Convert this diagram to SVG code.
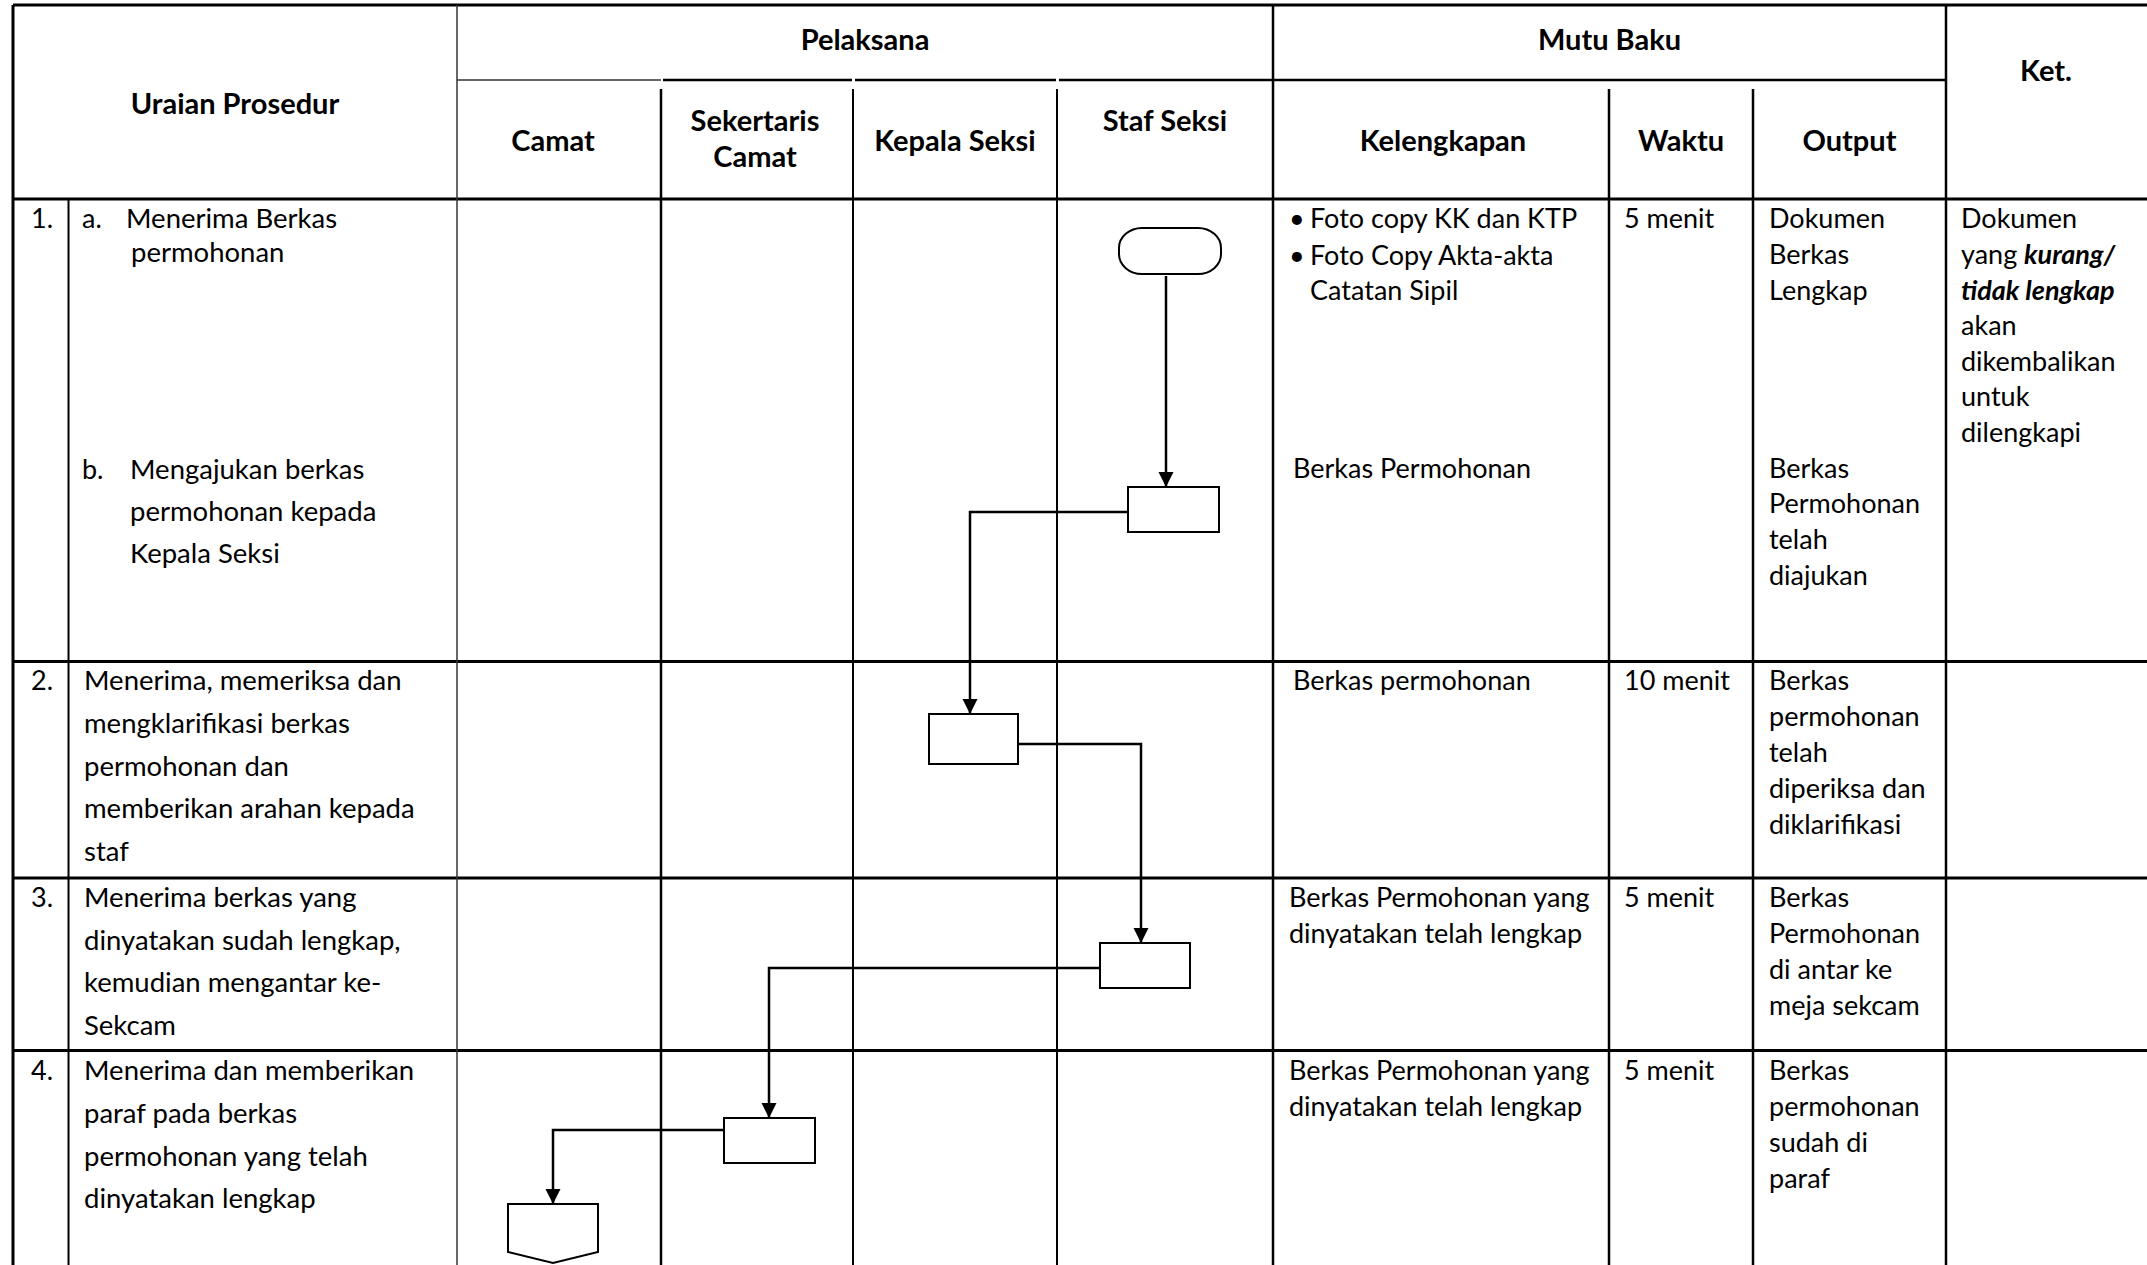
<svg xmlns="http://www.w3.org/2000/svg" width="2147" height="1265" viewBox="0 0 2147 1265">
<style>
text{font-family:Lato,"Open Sans","Liberation Sans",sans-serif;fill:#000}
.h{font-size:29px;font-weight:bold;text-anchor:middle}
.t{font-size:27px}
.u{font-size:27.5px}
.bi{font-weight:bold;font-style:italic}
.thick{stroke:#000;stroke-width:3;fill:none}
.med{stroke:#000;stroke-width:2.5;fill:none}
.thin{stroke:#000;stroke-width:2;fill:none}
.hair{stroke:#333;stroke-width:1.5;fill:none}
.shape{fill:#fff;stroke:#000;stroke-width:2}
.conn{stroke:#000;stroke-width:2.5;fill:none}
</style>
<defs>
<marker id="arr" markerUnits="userSpaceOnUse" markerWidth="16" markerHeight="16" refX="15" refY="7.5" orient="auto">
<path d="M0,0 L15,7.5 L0,15 z" fill="#000"/>
</marker>
</defs>
<rect x="0" y="0" width="2147" height="1265" fill="#fff"/>
<g id="grid">
<line class="thick" x1="13" y1="5" x2="2147" y2="5"/>
<line class="thick" x1="13" y1="5" x2="13" y2="1265"/>
<line class="hair" x1="457" y1="80" x2="661" y2="80"/>
<line class="med" x1="663" y1="80" x2="852" y2="80"/>
<line class="med" x1="855" y1="80" x2="1056" y2="80"/>
<line class="med" x1="1059" y1="80" x2="1946" y2="80"/>
<line class="thick" x1="13" y1="199" x2="2147" y2="199"/>
<line class="thick" x1="13" y1="661.5" x2="2147" y2="661.5"/>
<line class="thick" x1="13" y1="878" x2="2147" y2="878"/>
<line class="thick" x1="13" y1="1050.5" x2="2147" y2="1050.5"/>
<line class="thin" x1="68.5" y1="199" x2="68.5" y2="1265"/>
<line class="hair" x1="457" y1="5" x2="457" y2="1265"/>
<line class="med" x1="661" y1="89" x2="661" y2="1265"/>
<line class="thin" x1="853" y1="89" x2="853" y2="1265"/>
<line class="thin" x1="1057" y1="89" x2="1057" y2="1265"/>
<line class="med" x1="1273" y1="5" x2="1273" y2="1265"/>
<line class="med" x1="1609" y1="89" x2="1609" y2="1265"/>
<line class="med" x1="1753" y1="89" x2="1753" y2="1265"/>
<line class="med" x1="1946" y1="5" x2="1946" y2="1265"/>
</g>
<g id="header">
<text class="h" x="235" y="114">Uraian Prosedur</text>
<text class="h" x="865" y="50">Pelaksana</text>
<text class="h" x="1609.5" y="50">Mutu Baku</text>
<text class="h" x="2046" y="81">Ket.</text>
<text class="h" x="553" y="151">Camat</text>
<text class="h" x="755" y="131">Sekertaris</text>
<text class="h" x="755" y="167">Camat</text>
<text class="h" x="955" y="151">Kepala Seksi</text>
<text class="h" x="1165" y="131">Staf Seksi</text>
<text class="h" x="1443" y="151">Kelengkapan</text>
<text class="h" x="1681" y="151">Waktu</text>
<text class="h" x="1849.5" y="151">Output</text>
</g>
<g id="row1">
<text class="t" x="31" y="228">1.</text>
<text class="t" x="82" y="228">a.</text>
<text class="u" x="126" y="228">Menerima Berkas</text>
<text class="u" x="131" y="262">permohonan</text>
<text class="t" x="82" y="479">b.</text>
<text class="u" x="130" y="479">Mengajukan berkas</text>
<text class="u" x="130" y="521">permohonan kepada</text>
<text class="u" x="130" y="563">Kepala Seksi</text>
<text class="t" x="1289" y="228">•</text>
<text class="t" x="1310" y="228">Foto copy KK dan KTP</text>
<text class="t" x="1289" y="265">•</text>
<text class="t" x="1310" y="265">Foto Copy Akta-akta</text>
<text class="t" x="1310" y="300">Catatan Sipil</text>
<text class="t" x="1293" y="478">Berkas Permohonan</text>
<text class="t" x="1624" y="228">5 menit</text>
<text class="t" x="1769" y="228">Dokumen</text>
<text class="t" x="1769" y="264">Berkas</text>
<text class="t" x="1769" y="300">Lengkap</text>
<text class="t" x="1769" y="478">Berkas</text>
<text class="t" x="1769" y="513">Permohonan</text>
<text class="t" x="1769" y="549">telah</text>
<text class="t" x="1769" y="585">diajukan</text>
<text class="t" x="1961" y="228">Dokumen</text>
<text class="t" x="1961" y="264">yang <tspan class="bi">kurang/</tspan></text>
<text class="t bi" x="1961" y="300">tidak lengkap</text>
<text class="t" x="1961" y="335">akan</text>
<text class="t" x="1961" y="371">dikembalikan</text>
<text class="t" x="1961" y="406">untuk</text>
<text class="t" x="1961" y="442">dilengkapi</text>
</g>
<g id="row2">
<text class="t" x="31" y="690">2.</text>
<text class="u" x="84" y="690">Menerima, memeriksa dan</text>
<text class="u" x="84" y="733">mengklarifikasi berkas</text>
<text class="u" x="84" y="776">permohonan dan</text>
<text class="u" x="84" y="818">memberikan arahan kepada</text>
<text class="u" x="84" y="861">staf</text>
<text class="t" x="1293" y="690">Berkas permohonan</text>
<text class="t" x="1624" y="690">10 menit</text>
<text class="t" x="1769" y="690">Berkas</text>
<text class="t" x="1769" y="726">permohonan</text>
<text class="t" x="1769" y="762">telah</text>
<text class="t" x="1769" y="798">diperiksa dan</text>
<text class="t" x="1769" y="834">diklarifikasi</text>
</g>
<g id="row3">
<text class="t" x="31" y="907">3.</text>
<text class="u" x="84" y="907">Menerima berkas yang</text>
<text class="u" x="84" y="950">dinyatakan sudah lengkap,</text>
<text class="u" x="84" y="992">kemudian mengantar  ke-</text>
<text class="u" x="84" y="1035">Sekcam</text>
<text class="t" x="1289" y="907">Berkas Permohonan yang</text>
<text class="t" x="1289" y="943">dinyatakan telah lengkap</text>
<text class="t" x="1624" y="907">5  menit</text>
<text class="t" x="1769" y="907">Berkas</text>
<text class="t" x="1769" y="943">Permohonan</text>
<text class="t" x="1769" y="979">di antar ke</text>
<text class="t" x="1769" y="1015">meja sekcam</text>
</g>
<g id="row4">
<text class="t" x="31" y="1080">4.</text>
<text class="u" x="84" y="1080">Menerima dan memberikan</text>
<text class="u" x="84" y="1123">paraf pada berkas</text>
<text class="u" x="84" y="1166">permohonan yang telah</text>
<text class="u" x="84" y="1208">dinyatakan lengkap</text>
<text class="t" x="1289" y="1080">Berkas Permohonan yang</text>
<text class="t" x="1289" y="1116">dinyatakan telah lengkap</text>
<text class="t" x="1624" y="1080">5 menit</text>
<text class="t" x="1769" y="1080">Berkas</text>
<text class="t" x="1769" y="1116">permohonan</text>
<text class="t" x="1769" y="1152">sudah di</text>
<text class="t" x="1769" y="1188">paraf</text>
</g>
<g id="connectors">
<path class="conn" d="M1166,276 V487" marker-end="url(#arr)"/>
<path class="conn" d="M1128,512 H970 V714" marker-end="url(#arr)"/>
<path class="conn" d="M1017,744 H1141 V943" marker-end="url(#arr)"/>
<path class="conn" d="M1100,968 H769 V1118" marker-end="url(#arr)"/>
<path class="conn" d="M724,1130 H553 V1204" marker-end="url(#arr)"/>
</g>
<g id="n-start"><rect class="shape" x="1119" y="228" width="102" height="46" rx="23" ry="20"/></g>
<g id="n-staf1"><rect class="shape" x="1128" y="487" width="91" height="45"/></g>
<g id="n-kasi"><rect class="shape" x="929" y="714" width="89" height="50"/></g>
<g id="n-staf2"><rect class="shape" x="1100" y="943" width="90" height="45"/></g>
<g id="n-sekcam"><rect class="shape" x="724" y="1118" width="91" height="45"/></g>
<g id="n-offpage"><path class="shape" d="M508,1204 H598 V1252 L553,1263 L508,1252 Z"/></g>
</svg>
